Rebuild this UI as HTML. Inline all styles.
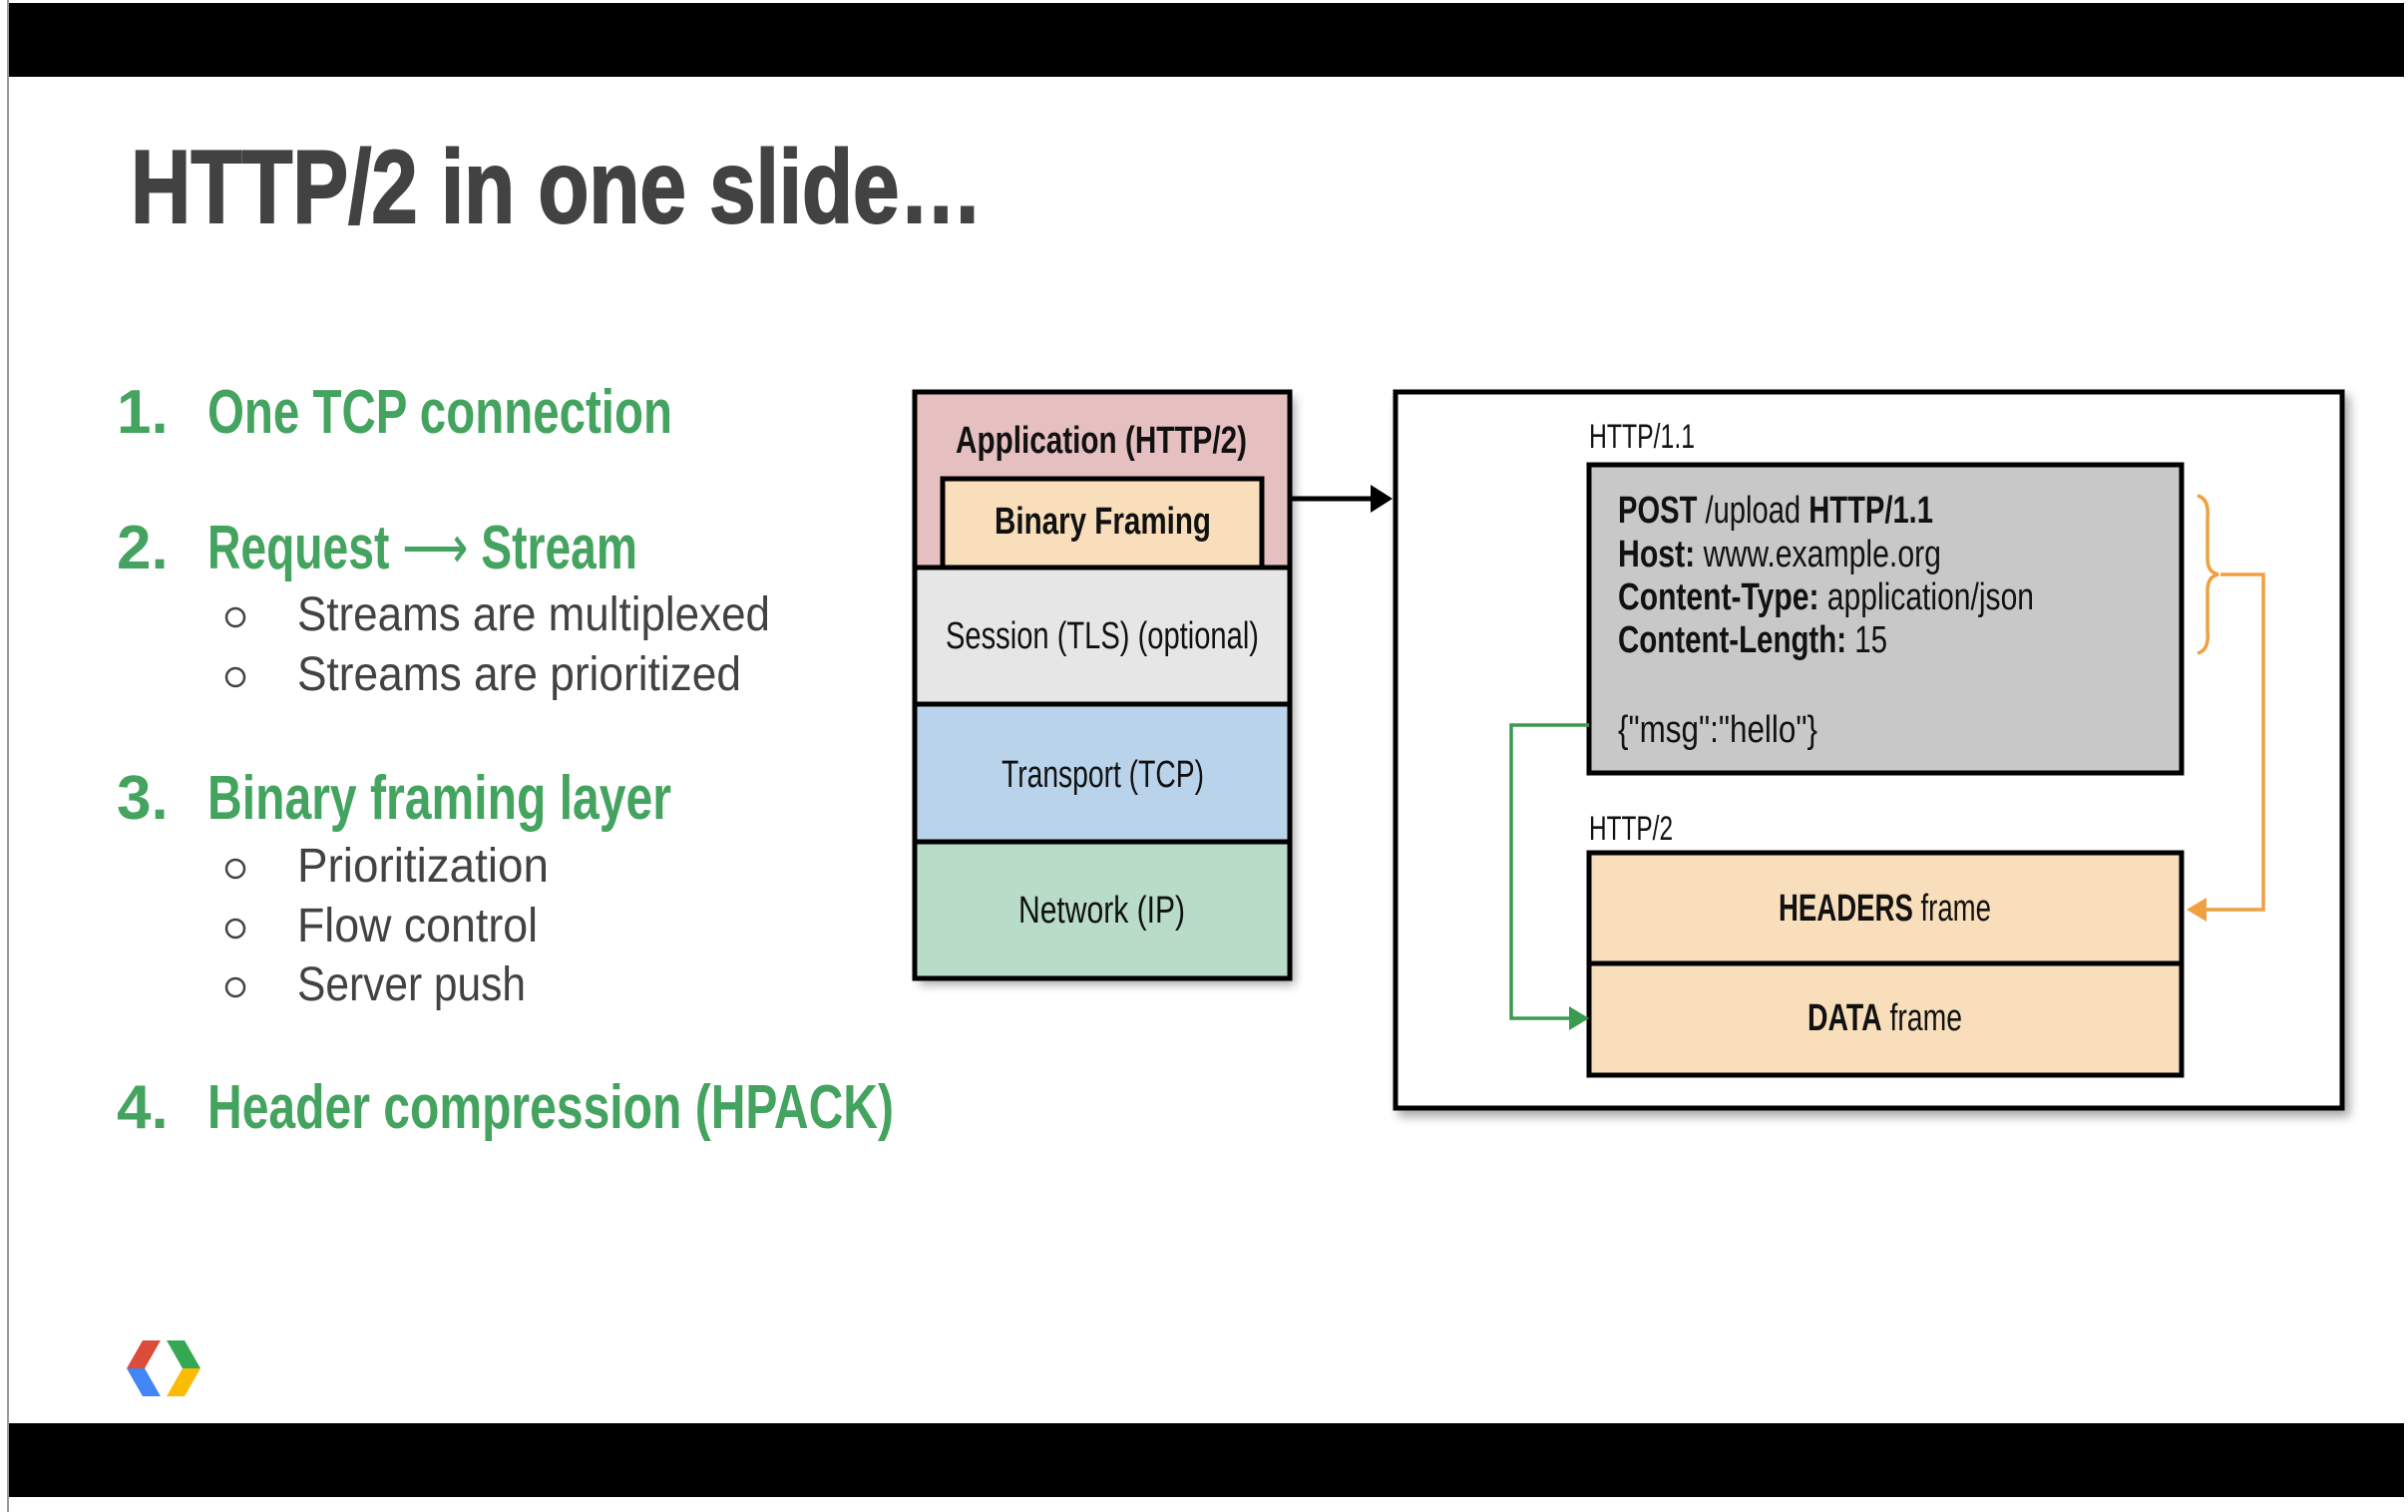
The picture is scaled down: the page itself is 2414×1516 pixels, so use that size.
<!DOCTYPE html>
<html><head><meta charset="utf-8"><style>
html,body{margin:0;padding:0;background:#fff;}
svg{display:block;}
</style></head><body>
<svg width="2414" height="1516" viewBox="0 0 2414 1516" xmlns="http://www.w3.org/2000/svg" font-family="'Liberation Sans', sans-serif">
<defs>
<filter id="sh" x="-10%" y="-10%" width="130%" height="130%"><feDropShadow dx="5" dy="6" stdDeviation="5" flood-color="#000" flood-opacity="0.35"/></filter>
</defs>
<rect width="2414" height="1516" fill="#fff"/>
<rect x="8" y="3" width="2402" height="74" fill="#000"/>
<rect x="8" y="1427" width="2402" height="74" fill="#000"/>
<line x1="8" y1="0" x2="8" y2="1516" stroke="#999" stroke-width="2"/>

<text x="131" y="223" font-size="104" font-weight="bold" fill="#424242" stroke="#424242" stroke-width="2" textLength="854" lengthAdjust="spacingAndGlyphs">HTTP/2 in one slide…</text>

<g fill="#43a35f" font-weight="bold" font-size="62">
<text x="117" y="434">1.</text>
<text x="208" y="434" textLength="466" lengthAdjust="spacingAndGlyphs">One TCP connection</text>
<text x="117" y="570">2.</text>
<text x="208" y="570" textLength="431" lengthAdjust="spacingAndGlyphs">Request <tspan font-weight="normal">⟶</tspan> Stream</text>
<text x="117" y="821">3.</text>
<text x="208" y="821" textLength="465" lengthAdjust="spacingAndGlyphs">Binary framing layer</text>
<text x="117" y="1131">4.</text>
<text x="208" y="1131" textLength="688" lengthAdjust="spacingAndGlyphs">Header compression (HPACK)</text>
</g>
<g fill="#424242" font-size="48">
<text x="298" y="632" textLength="474" lengthAdjust="spacingAndGlyphs">Streams are multiplexed</text>
<text x="298" y="692" textLength="445" lengthAdjust="spacingAndGlyphs">Streams are prioritized</text>
<text x="298" y="884" textLength="252" lengthAdjust="spacingAndGlyphs">Prioritization</text>
<text x="298" y="944" textLength="241" lengthAdjust="spacingAndGlyphs">Flow control</text>
<text x="298" y="1003" textLength="229" lengthAdjust="spacingAndGlyphs">Server push</text>
</g>
<g fill="none" stroke="#424242" stroke-width="2.5">
<circle cx="236" cy="619" r="9"/><circle cx="236" cy="679" r="9"/>
<circle cx="236" cy="871" r="9"/><circle cx="236" cy="931" r="9"/><circle cx="236" cy="990" r="9"/>
</g>

<!-- stack -->
<g filter="url(#sh)">
<rect x="917" y="393" width="376" height="588" fill="#000"/>
</g>
<g stroke="#000" stroke-width="5">
<rect x="917" y="393" width="376" height="176" fill="#e6c0c1"/>
<rect x="945" y="480" width="320" height="89" fill="#f8deba"/>
<rect x="917" y="569" width="376" height="137" fill="#e6e6e6"/>
<rect x="917" y="706" width="376" height="138" fill="#b9d3ea"/>
<rect x="917" y="844" width="376" height="137" fill="#b9dcc8"/>
</g>
<g fill="#111" font-size="38">
<text x="958" y="454" font-weight="bold" textLength="292" lengthAdjust="spacingAndGlyphs">Application (HTTP/2)</text>
<text x="997" y="535" font-weight="bold" textLength="217" lengthAdjust="spacingAndGlyphs">Binary Framing</text>
<text x="948" y="650" textLength="314" lengthAdjust="spacingAndGlyphs">Session (TLS) (optional)</text>
<text x="1004" y="789" textLength="203" lengthAdjust="spacingAndGlyphs">Transport (TCP)</text>
<text x="1021" y="925" textLength="167" lengthAdjust="spacingAndGlyphs">Network (IP)</text>
</g>
<line x1="1293" y1="500" x2="1378" y2="500" stroke="#000" stroke-width="5"/>
<polygon points="1374,486 1396,500 1374,514" fill="#000"/>

<!-- big box -->
<rect x="1399" y="393" width="949" height="718" fill="#fff" stroke="#000" stroke-width="5" filter="url(#sh)"/>
<g fill="#111" font-size="34">
<text x="1593" y="449" textLength="106" lengthAdjust="spacingAndGlyphs">HTTP/1.1</text>
<text x="1593" y="842" textLength="84" lengthAdjust="spacingAndGlyphs">HTTP/2</text>
</g>
<rect x="1593" y="466" width="594" height="309" fill="#c8c8c8" stroke="#000" stroke-width="5"/>
<g fill="#111" font-size="38">
<text x="1622" y="524" textLength="316" lengthAdjust="spacingAndGlyphs"><tspan font-weight="bold">POST</tspan> /upload <tspan font-weight="bold">HTTP/1.1</tspan></text>
<text x="1622" y="568" textLength="324" lengthAdjust="spacingAndGlyphs"><tspan font-weight="bold">Host:</tspan> www.example.org</text>
<text x="1622" y="611" textLength="417" lengthAdjust="spacingAndGlyphs"><tspan font-weight="bold">Content-Type:</tspan> application/json</text>
<text x="1622" y="654" textLength="270" lengthAdjust="spacingAndGlyphs"><tspan font-weight="bold">Content-Length:</tspan> 15</text>
<text x="1622" y="744" textLength="200" lengthAdjust="spacingAndGlyphs">{"msg":"hello"}</text>
</g>
<rect x="1593" y="855" width="594" height="111" fill="#f8deba" stroke="#000" stroke-width="5"/>
<rect x="1593" y="966" width="594" height="112" fill="#f8deba" stroke="#000" stroke-width="5"/>
<g fill="#111" font-size="38">
<text x="1783" y="923" textLength="213" lengthAdjust="spacingAndGlyphs"><tspan font-weight="bold">HEADERS</tspan> frame</text>
<text x="1812" y="1033" textLength="155" lengthAdjust="spacingAndGlyphs"><tspan font-weight="bold">DATA</tspan> frame</text>
</g>
<!-- orange brace & connector -->
<path d="M2203,497 Q2215,500 2213,520 L2213,560 Q2213,574 2224,576 Q2213,578 2213,592 L2213,632 Q2215,652 2203,655" fill="none" stroke="#f0a040" stroke-width="3.5"/>
<polyline points="2226,576 2269,576 2269,912 2210,912" fill="none" stroke="#f0a040" stroke-width="3.5"/>
<polygon points="2212,900 2192,912 2212,924" fill="#f0a040"/>
<!-- green connector -->
<polyline points="1593,727 1515,727 1515,1021 1575,1021" fill="none" stroke="#3a9a50" stroke-width="3.5"/>
<polygon points="1573,1009 1593,1021 1573,1033" fill="#3a9a50"/>

<!-- logo -->
<polygon points="143,1344 161,1344 145,1372 127,1372" fill="#dd4b39"/>
<polygon points="127,1372 145,1372 161,1400 143,1400" fill="#4285f4"/>
<polygon points="167,1344 185,1344 201,1372 183,1372" fill="#34a853"/>
<polygon points="183,1372 201,1372 185,1400 167,1400" fill="#fbbc05"/>
</svg>
</body></html>
